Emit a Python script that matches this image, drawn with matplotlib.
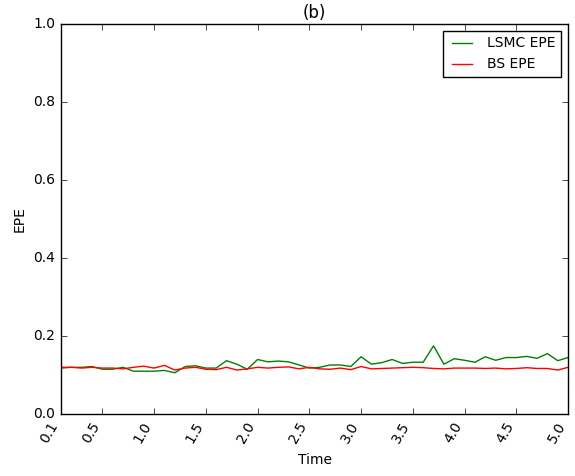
import matplotlib
matplotlib.use("Agg")
import matplotlib.pyplot as plt
import numpy as np

time = [round(0.1 * (i + 1), 1) for i in range(50)]
lsmc_epe = [0.118, 0.120, 0.120, 0.122, 0.115, 0.115, 0.120, 0.110, 0.110, 0.110,
            0.112, 0.106, 0.122, 0.124, 0.118, 0.118, 0.137, 0.128, 0.115, 0.140,
            0.134, 0.136, 0.134, 0.126, 0.118, 0.120, 0.126, 0.126, 0.122, 0.147,
            0.128, 0.132, 0.140, 0.130, 0.133, 0.133, 0.175, 0.128, 0.142, 0.138,
            0.133, 0.147, 0.138, 0.145, 0.145, 0.148, 0.143, 0.155, 0.137, 0.145]
bs_epe = [0.120, 0.120, 0.118, 0.120, 0.118, 0.118, 0.116, 0.120, 0.123, 0.118,
          0.125, 0.113, 0.118, 0.120, 0.115, 0.114, 0.120, 0.113, 0.116, 0.120,
          0.118, 0.120, 0.121, 0.116, 0.120, 0.116, 0.115, 0.118, 0.114, 0.122,
          0.116, 0.117, 0.118, 0.119, 0.120, 0.119, 0.117, 0.116, 0.118, 0.118,
          0.118, 0.117, 0.118, 0.116, 0.117, 0.119, 0.117, 0.117, 0.113, 0.120]
xticks = [0.1, 0.5, 1.0, 1.5, 2.0, 2.5, 3.0, 3.5, 4.0, 4.5, 5.0]
xticklabels = ["0.1", "0.5", "1.0", "1.5", "2.0", "2.5", "3.0", "3.5", "4.0", "4.5", "5.0"]

plt.style.use("classic")
plt.rcParams["font.family"] = ["DejaVu Sans"]
plt.rcParams["font.size"] = 10

fig = plt.figure(figsize=(5.75, 4.76), dpi=100, facecolor="white")
ax = fig.add_axes([0.106, 0.130, 0.882, 0.8196])
ax.plot(time, lsmc_epe, color="g", lw=1.0, label="LSMC EPE")
ax.plot(time, bs_epe, color="r", lw=1.0, label="BS EPE")
ax.set_xlim(0.1, 5.0)
ax.set_ylim(0.0, 1.0)
ax.set_xticks(xticks)
ax.set_xticklabels(xticklabels, rotation=60, ha="right", fontsize=10)
ax.set_yticks([0.0, 0.2, 0.4, 0.6, 0.8, 1.0])
ax.set_yticklabels(["0.0", "0.2", "0.4", "0.6", "0.8", "1.0"], fontsize=10)
ax.set_xlabel("Time", fontsize=10)
ax.set_ylabel("EPE", fontsize=10)
ax.set_title("(b)", fontsize=12, pad=4)
ax.legend(loc="upper right", fontsize=10)
fig.savefig("out.png", dpi=100, facecolor="white")
